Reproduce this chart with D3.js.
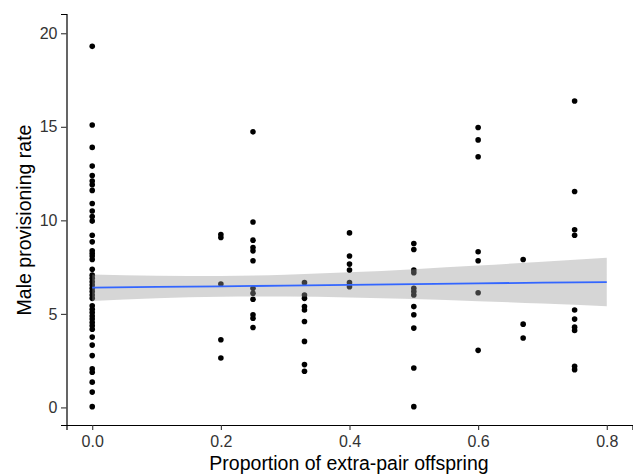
<!DOCTYPE html>
<html>
<head>
<meta charset="utf-8">
<script src="https://cdn.jsdelivr.net/npm/d3@7"></script>
<style>
	body { margin:0; background:#fff; }
	svg text { font-family:"Liberation Sans", Arial, sans-serif; }
</style>
</head>
<body>
<svg id="chart" width="633" height="474"></svg>
<script>
// male provisioning rates per proportion of extra-pair offspring
var epp0    = [19.3,15.1,13.9,12.9,12.4,12.1,11.9,11.6,10.9,10.5,10.2,9.96,9.2,8.85,8.37,8.23,8.09,7.91,7.38,7.07,6.9,6.72,6.54,6.37,6.19,6.01,5.83,5.43,5.25,5.07,4.89,4.72,4.54,4.36,4.18,3.76,3.33,2.77,2.06,1.88,1.35,0.82,0.04];
var epp20   = [9.24,9.08,6.6,3.62,2.64];
var epp25   = [14.73,9.91,8.94,8.55,8.37,7.84,6.37,6.1,5.78,4.95,4.77,4.27];
var epp33   = [6.67,6.01,5.83,5.39,5.21,4.59,3.53,2.29,1.93];
var epp40   = [9.33,8.09,7.66,7.34,6.67,6.45];
var epp50   = [8.76,8.44,7.34,7.2,6.37,6.19,6.01,5.39,4.95,4.24,2.11,0.04];
var epp60   = [14.96,14.3,13.4,8.32,7.84,6.13,3.05];
var epp67   = [7.91,4.45,3.71];
var epp75   = [16.38,11.54,9.5,9.2,5.21,4.72,4.29,4.11,2.2,2.02];
var groupX  = [0, 0.2, 0.25, 0.33, 0.4, 0.5, 0.6, 0.67, 0.75];
var groupY  = [epp0, epp20, epp25, epp33, epp40, epp50, epp60, epp67, epp75];

// fitted line and its confidence band
var fitX    = [0, 0.1, 0.2, 0.3, 0.4, 0.5, 0.6, 0.7, 0.8];
var fitY    = [6.40, 6.44, 6.47, 6.51, 6.55, 6.59, 6.63, 6.67, 6.70];
var fitHi   = [7.10, 7.04, 7.03, 7.09, 7.22, 7.39, 7.58, 7.79, 8.00];
var fitLo   = [5.69, 5.84, 5.91, 5.93, 5.88, 5.79, 5.68, 5.55, 5.41];

var xTicks  = [0, 0.2, 0.4, 0.6, 0.8];
var yTicks  = [0, 5, 10, 15, 20];

var pts = [];
groupX.forEach(function(x,i){ groupY[i].forEach(function(y){ pts.push({x:x, y:y}); }); });
var band = fitX.map(function(x,i){ return {x:x, y:fitY[i], lo:fitLo[i], hi:fitHi[i]}; });

var svg = d3.select('#chart');
var x = d3.scaleLinear().domain([-0.04, 0.84]).range([66.5, 632.5]);
var y = d3.scaleLinear().domain([-0.94, 21.03]).range([425, 14]);

svg.append('g').selectAll('circle').data(pts).enter().append('circle')
	.attr('cx', d=>x(d.x)).attr('cy', d=>y(d.y)).attr('r', 2.8).attr('fill', '#000');

svg.append('path').datum(band)
	.attr('d', d3.area().curve(d3.curveMonotoneX).x(d=>x(d.x)).y0(d=>y(d.lo)).y1(d=>y(d.hi)))
	.attr('fill', '#999').attr('fill-opacity', 0.4);
svg.append('path').datum(band)
	.attr('d', d3.line().x(d=>x(d.x)).y(d=>y(d.y)))
	.attr('fill', 'none').attr('stroke', '#3366FF').attr('stroke-width', 1.8);

var gx = svg.append('g').attr('transform', 'translate(0,425)')
	.call(d3.axisBottom(x).tickValues(xTicks).tickFormat(d3.format('.1f')).tickSize(5).tickPadding(6));
var gy = svg.append('g').attr('transform', 'translate(66.5,0)')
	.call(d3.axisLeft(y).tickValues(yTicks).tickSize(5.5).tickPadding(3.5));
[gx, gy].forEach(function(g){
	g.select('.domain').attr('stroke', '#000').attr('stroke-width', 1.2);
	g.selectAll('.tick line').attr('stroke', '#333').attr('stroke-width', 1.1);
	g.selectAll('.tick text').attr('fill', '#333').style('font-size', '16px');
});

svg.append('text').attr('x', 349).attr('y', 470).attr('text-anchor', 'middle')
	.style('font-size', '19.5px').attr('fill', '#000').text('Proportion of extra-pair offspring');
svg.append('text').attr('transform', 'translate(31,220) rotate(-90)').attr('text-anchor', 'middle')
	.style('font-size', '19.5px').attr('fill', '#000').text('Male provisioning rate');
</script>
</body>
</html>
